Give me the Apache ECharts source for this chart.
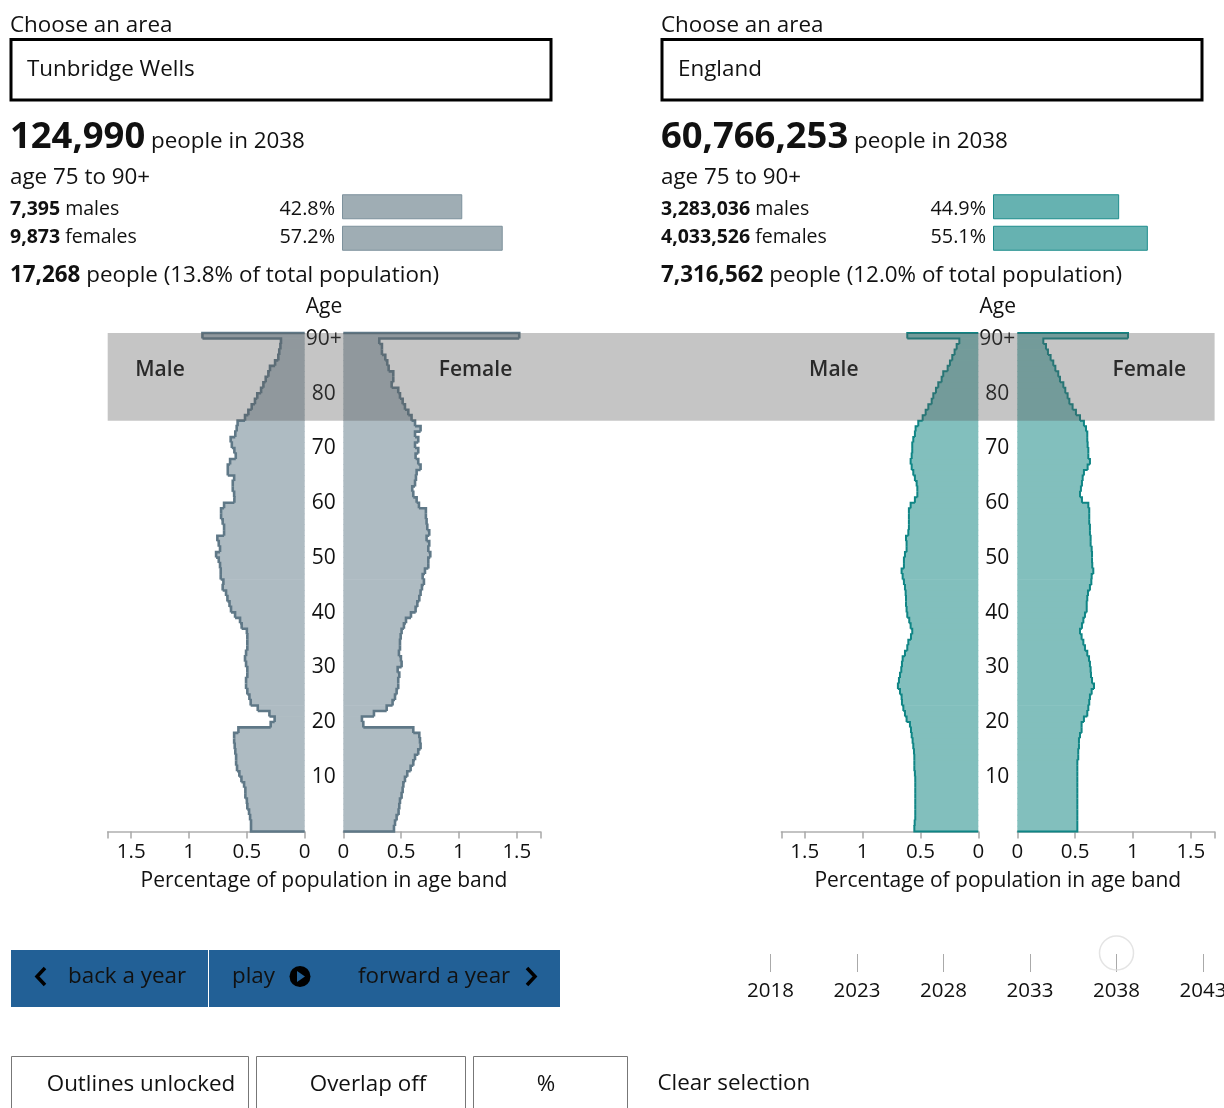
<!DOCTYPE html>
<html>
<head>
<meta charset="utf-8">
<title>Population pyramids</title>
<style>
  html, body { margin: 0; padding: 0; background: #fff; overflow: hidden; }
  #chart { width: 1224px; height: 1108px; }
</style>
<script src="https://cdn.jsdelivr.net/npm/echarts@6/dist/echarts.min.js"></script>
</head>
<body>
<div id="chart"></div>
<script>
// index = single year of age, last entry is 90+
let ageLabels = []
for (let a = 0; a < 90; a++) ageLabels.push(String(a))
ageLabels.push('90+')

let tunbridgeMale = [.464,.464,.472,.481,.496,.5,.513,.513,.524,.547,.565,.585,.593,.593,.6,.605,.61,.61,.573,.294,.26,.305,.406,.467,.478,.496,.507,.507,.496,.496,.507,.516,.507,.496,.496,.496,.5,.545,.559,.602,.637,.65,.668,.68,.709,.703,.726,.726,.732,.743,.766,.732,.743,.755,.697,.697,.709,.723,.723,.697,.608,.61,.622,.622,.61,.665,.665,.645,.596,.608,.63,.64,.6,.588,.58,.516,.487,.458,.43,.41,.377,.357,.337,.314,.3,.256,.228,.22,.21,.205,.884]
let tunbridgeFemale = [.438,.447,.461,.478,.484,.49,.504,.513,.519,.533,.553,.582,.605,.62,.648,.668,.663,.657,.605,.173,.161,.265,.375,.426,.447,.461,.475,.475,.484,.47,.504,.498,.481,.49,.49,.496,.504,.524,.542,.585,.625,.64,.657,.668,.68,.697,.686,.706,.735,.735,.752,.735,.743,.72,.743,.726,.72,.714,.714,.654,.634,.605,.596,.62,.628,.634,.668,.648,.625,.648,.62,.648,.62,.668,.62,.59,.562,.533,.513,.49,.475,.418,.432,.432,.392,.38,.363,.334,.334,.311,1.521]
let englandMale = [.553,.55,.545,.545,.545,.545,.545,.545,.545,.545,.548,.553,.553,.553,.556,.562,.568,.576,.582,.591,.62,.634,.648,.66,.663,.677,.695,.686,.677,.666,.66,.654,.634,.614,.605,.582,.571,.585,.597,.614,.62,.625,.625,.628,.634,.643,.654,.663,.643,.643,.634,.62,.62,.625,.605,.6,.6,.6,.6,.585,.548,.527,.527,.533,.548,.562,.576,.585,.576,.571,.571,.562,.548,.542,.519,.481,.455,.432,.403,.389,.366,.346,.317,.303,.265,.245,.225,.205,.187,.164,.614]
let englandFemale = [.519,.519,.519,.519,.519,.519,.519,.519,.519,.519,.519,.519,.519,.527,.527,.533,.533,.542,.556,.556,.576,.605,.614,.622,.628,.643,.663,.646,.637,.634,.628,.62,.605,.585,.571,.556,.542,.559,.571,.585,.6,.6,.605,.611,.628,.64,.643,.657,.648,.646,.646,.643,.634,.634,.628,.628,.622,.622,.622,.614,.559,.542,.55,.559,.565,.576,.608,.628,.614,.614,.608,.605,.605,.594,.576,.542,.507,.478,.45,.435,.415,.398,.369,.354,.329,.311,.288,.265,.248,.225,.957]

let selectedAges = [75, 90]

let splitPercents = { tunbridge: [42.8, 57.2], england: [44.9, 55.1] }
let yearTicks = [2018, 2023, 2028, 2033, 2038, 2043]
let selectedYear = 2038
let percentLabels = [0, 0.5, 1, 1.5]
let percentMax = 1.703

let font = '"Open Sans", "Noto Sans", sans-serif'
let ink = '#111'

let chartTop = 333, chartHeight = 498.5
let maleWidth = 197, femaleWidth = 197
let panels = [
    { male: tunbridgeMale, female: tunbridgeFemale, maleZero: 304.7, femaleZero: 343.3, fill: '#aebbc2', line: '#5f7887', lineWidth: 2.6 },
    { male: englandMale, female: englandFemale, maleZero: 978.3, femaleZero: 1017.3, fill: '#82bfbd', line: '#0f8585', lineWidth: 2 }
]
let bandRight = 1214.6

let grids = [], xAxes = [], yAxes = [], series = []

function outlineData(values) {
    return values.map((v, i) => [v, i, i + 1 < values.length ? values[i + 1] : 0])
}

function renderOutline(color, width) {
    return function (params, api) {
        let v = api.value(0), i = api.value(1), next = api.value(2)
        let c = api.coord([v, i])
        let h = api.size([0, 1])[1]
        let bottom = c[1] + h / 2, top = c[1] - h / 2
        let pts = []
        if (i === 0) pts.push([api.coord([0, i])[0], bottom])
        pts.push([c[0], bottom], [c[0], top], [api.coord([next, i])[0], top])
        return {
            type: 'polyline',
            shape: { points: pts },
            style: { stroke: color, lineWidth: width, fill: null, lineJoin: 'miter' }
        }
    }
}

function addPyramidSide(left, width, values, panel, isMale) {
    let idx = grids.length
    grids.push({ left: left, top: chartTop, width: width, height: chartHeight, outerBoundsMode: 'none' })
    xAxes.push({
        gridIndex: idx, type: 'value', min: 0, max: percentMax, inverse: isMale,
        splitLine: { show: false },
        axisLine: { show: true, lineStyle: { color: '#b0b0b0', width: 1.5 } },
        axisTick: { show: true, length: 7, lineStyle: { color: '#a8a8a8', width: 1.5 }, customValues: percentLabels.concat(percentMax) },
        axisLabel: { customValues: percentLabels, color: ink, fontFamily: font, fontSize: 20.5, margin: 10 }
    })
    yAxes.push({
        gridIndex: idx, type: 'category', data: ageLabels, position: isMale ? 'right' : 'left',
        axisLine: { show: false }, axisTick: { show: false }, splitLine: { show: false },
        axisLabel: {
            show: isMale, align: 'center', margin: 19,
            interval: (i) => i > 0 && i % 10 === 0,
            formatter: (v) => '{a|' + v + '}',
            rich: { a: { color: ink, fontFamily: font, fontSize: 21, padding: [6, 0, 0, 0] } }
        }
    })
    series.push({
        type: 'bar', xAxisIndex: idx, yAxisIndex: idx, data: values,
        barWidth: 6.2, barGap: 0, itemStyle: { color: panel.fill }, z: 2
    })
    series.push({
        type: 'custom', xAxisIndex: idx, yAxisIndex: idx, data: outlineData(values),
        encode: { x: 0, y: 1 }, renderItem: renderOutline(panel.line, panel.lineWidth), z: 3
    })
}

panels.forEach(function (p) {
    addPyramidSide(p.maleZero - maleWidth, maleWidth, p.male, p, true)
    addPyramidSide(p.femaleZero, femaleWidth, p.female, p, false)
})

// selected age band, laid over the pyramids
series.push({
    type: 'custom', xAxisIndex: 0, yAxisIndex: 0, z: 6, data: [selectedAges],
    encode: { x: -1, y: [0, 1] },
    renderItem: function (params, api) {
        let h = api.size([0, 1])[1]
        let top = api.coord([0, api.value(1)])[1] - h / 2
        let bottom = api.coord([0, api.value(0)])[1] + h / 2
        return {
            type: 'rect',
            shape: { x: params.coordSys.x, y: top, width: bandRight - params.coordSys.x, height: bottom - top },
            style: { fill: 'rgba(90,90,90,0.35)' }
        }
    }
})

// small male / female share bars
function addShareBars(left, values, color, border) {
    let idx = grids.length
    grids.push({ left: left, top: 191, width: 281, height: 63, outerBoundsMode: 'none' })
    xAxes.push({ gridIndex: idx, type: 'value', min: 0, max: 100, show: false })
    yAxes.push({ gridIndex: idx, type: 'category', inverse: true, data: ['males', 'females'], show: false })
    series.push({
        type: 'bar', xAxisIndex: idx, yAxisIndex: idx, data: values, barWidth: 25,
        itemStyle: { color: color, borderColor: border, borderWidth: 1 }
    })
}
addShareBars(342, splitPercents.tunbridge, '#9fadb4', '#7d919c')
addShareBars(993, splitPercents.england, '#66b2b1', '#1d8c8c')

// year slider
let sliderIdx = grids.length
grids.push({ left: 770.5, top: 953, width: 432.5, height: 1, outerBoundsMode: 'none' })
xAxes.push({
    gridIndex: sliderIdx, type: 'value', min: yearTicks[0], max: yearTicks[yearTicks.length - 1], interval: 5,
    axisLine: { show: false }, splitLine: { show: false },
    axisTick: { show: true, length: 18, lineStyle: { color: '#aaa', width: 1 } },
    axisLabel: { color: ink, fontFamily: font, fontSize: 20.5, margin: 27, formatter: (v) => String(v), hideOverlap: false }
})
yAxes.push({ gridIndex: sliderIdx, type: 'value', min: 0, max: 1, show: false })
series.push({
    type: 'scatter', xAxisIndex: sliderIdx, yAxisIndex: sliderIdx, clip: false, symbolSize: 34,
    data: [[selectedYear, 1]], itemStyle: { color: 'rgba(255,255,255,0)', borderColor: '#ddd', borderWidth: 1.5 }
})

// page furniture around the charts
let gfx = []

function text(x, y, str, size, opts) {
    gfx.push({
        type: 'text', z: 1, silent: true,
        style: Object.assign({
            x: x, y: y + 2, text: str, fontFamily: font, fontSize: size, fill: ink,
            textAlign: 'left', textVerticalAlign: 'middle'
        }, opts || {})
    })
}

function richLine(x, y, bold, rest, size) {
    text(x, y, '{b|' + bold + '} {n|' + rest + '}', size, {
        rich: {
            b: { fontFamily: font, fontSize: size, fontWeight: 700, fill: ink },
            n: { fontFamily: font, fontSize: size, fill: ink }
        }
    })
}

function header(x, area, total, totalWidth, ageText, males, females, malePct, femalePct, people, share) {
    text(x, 24, 'Choose an area', 22.4)
    gfx.push({
        type: 'rect', z: 1, silent: true,
        shape: { x: x + 1, y: 39.5, width: 540, height: 60.5 },
        style: { fill: '#fff', stroke: '#000', lineWidth: 3 }
    })
    text(x + 17, 68, area, 22.4)
    text(x, 136, total, 36.4, { fontWeight: 700 })
    text(x + totalWidth + 7, 140, 'people in 2038', 22.4)
    text(x, 176, ageText, 22.4)
    richLine(x, 207.5, males, 'males', 19.5)
    richLine(x, 235.5, females, 'females', 19.5)
    text(x + 325, 207.5, malePct, 19.8, { textAlign: 'right' })
    text(x + 325, 235.5, femalePct, 19.8, { textAlign: 'right' })
    richLine(x, 274, people, share, 22.4)
}

header(10, 'Tunbridge Wells', '124,990', 134, 'age 75 to 90+', '7,395', '9,873', '42.8%', '57.2%', '17,268', 'people (13.8% of total population)')
header(661, 'England', '60,766,253', 186, 'age 75 to 90+', '3,283,036', '4,033,526', '44.9%', '55.1%', '7,316,562', 'people (12.0% of total population)')

panels.forEach(function (p) {
    let mid = (p.maleZero + p.femaleZero) / 2
    text(mid, 305, 'Age', 21, { textAlign: 'center' })
    text(mid - 164, 368, 'Male', 21, { textAlign: 'center', fontWeight: 600 })
    text(mid + 151.5, 368, 'Female', 21, { textAlign: 'center', fontWeight: 600 })
    text(mid, 879, 'Percentage of population in age band', 21, { textAlign: 'center' })
})

// transport buttons
gfx.push({ type: 'rect', z: 1, silent: true, shape: { x: 11, y: 950, width: 549, height: 57 }, style: { fill: '#226096' } })
gfx.push({ type: 'rect', z: 1, silent: true, shape: { x: 208, y: 950, width: 1, height: 57 }, style: { fill: '#fff' } })
text(68, 975, 'back a year', 22.4)
text(232, 975, 'play', 22.4)
text(358, 975, 'forward a year', 22.4)
function chevron(pts) {
    gfx.push({ type: 'polyline', z: 1, silent: true, shape: { points: pts }, style: { stroke: '#000', lineWidth: 3.5, fill: null } })
}
chevron([[45, 968], [37, 976.5], [45, 985]])
chevron([[527, 968], [535, 976.5], [527, 985]])
gfx.push({ type: 'circle', z: 1, silent: true, shape: { cx: 300, cy: 976.5, r: 10.5 }, style: { fill: '#000' } })
gfx.push({ type: 'polygon', z: 1, silent: true, shape: { points: [[297, 971], [305, 976.5], [297, 982]] }, style: { fill: '#226096' } })

// toggle buttons, open at the bottom because the page is cut off there
function toggle(x0, x1, label, labelX) {
    gfx.push({
        type: 'polyline', z: 1, silent: true,
        shape: { points: [[x0, 1108], [x0, 1056.5], [x1, 1056.5], [x1, 1108]] },
        style: { stroke: '#777', lineWidth: 1, fill: null }
    })
    text(labelX, 1083, label, 22.4, { textAlign: 'center' })
}
toggle(11.5, 248.5, 'Outlines unlocked', 141)
toggle(256.5, 465.5, 'Overlap off', 368)
toggle(473.5, 627.5, '%', 546)
text(657.5, 1082, 'Clear selection', 22.4)

let chart = echarts.init(document.getElementById('chart'), null, { renderer: 'canvas' })
chart.setOption({
    animation: false,
    backgroundColor: '#fff',
    tooltip: { show: false },
    grid: grids,
    xAxis: xAxes,
    yAxis: yAxes,
    series: series,
    graphic: { elements: gfx }
})
</script>
</body>
</html>
